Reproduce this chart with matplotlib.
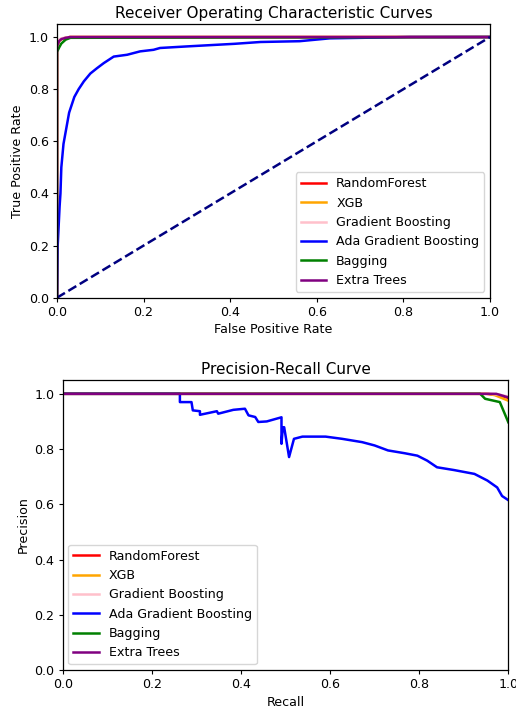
import matplotlib
matplotlib.use("Agg")
import matplotlib.pyplot as plt

models = ["RandomForest", "XGB", "Gradient Boosting", "Ada Gradient Boosting", "Bagging", "Extra Trees"]
colors = ["red", "orange", "pink", "blue", "green", "purple"]

# ROC curves (fpr, tpr)
roc_fpr = {
    "RandomForest": [0, 0, 0.005, 0.01, 0.02, 0.03, 1.0],
    "XGB": [0, 0, 0.005, 0.01, 0.02, 0.03, 1.0],
    "Gradient Boosting": [0, 0, 0.004, 0.01, 0.02, 0.03, 1.0],
    "Ada Gradient Boosting": [0, 0.0015, 0.006, 0.008, 0.010, 0.015, 0.028, 0.040, 0.050, 0.062,
                              0.077, 0.092, 0.108, 0.131, 0.162, 0.192, 0.223, 0.238, 0.30, 0.41,
                              0.47, 0.56, 0.63, 0.815, 1.0],
    "Bagging": [0, 0, 0.005, 0.01, 0.02, 0.031, 1.0],
    "Extra Trees": [0, 0, 0.005, 0.01, 0.02, 0.03, 1.0],
}
roc_tpr = {
    "RandomForest": [0, 0.965, 0.985, 0.992, 0.997, 1.0, 1.0],
    "XGB": [0, 0.965, 0.985, 0.992, 0.997, 1.0, 1.0],
    "Gradient Boosting": [0, 0.975, 0.99, 0.995, 0.998, 1.0, 1.0],
    "Ada Gradient Boosting": [0, 0.196, 0.35, 0.40, 0.50, 0.59, 0.71, 0.77, 0.80, 0.83,
                              0.86, 0.88, 0.90, 0.925, 0.932, 0.945, 0.951, 0.958, 0.964, 0.974,
                              0.981, 0.984, 0.995, 1.0, 1.0],
    "Bagging": [0, 0.943, 0.96, 0.975, 0.99, 0.997, 1.0],
    "Extra Trees": [0, 0.965, 0.985, 0.992, 0.997, 1.0, 1.0],
}

# Precision-Recall curves (recall, precision)
pr_recall = {
    "RandomForest": [0, 0.95, 0.98, 1.0],
    "XGB": [0, 0.955, 0.97, 1.0],
    "Gradient Boosting": [0, 0.96, 0.98, 1.0],
    "Ada Gradient Boosting": [0, 0.263, 0.263, 0.289, 0.292, 0.308, 0.308, 0.346, 0.349, 0.383,
                              0.409, 0.417, 0.432, 0.439, 0.458, 0.491, 0.491, 0.494, 0.497, 0.508,
                              0.519, 0.538, 0.59, 0.627, 0.672, 0.70, 0.73, 0.767, 0.796, 0.818,
                              0.84, 0.878, 0.924, 0.953, 0.975, 0.986, 1.0],
    "Bagging": [0, 0.937, 0.948, 0.981, 1.0],
    "Extra Trees": [0, 0.973, 1.0],
}
pr_precision = {
    "RandomForest": [1.0, 1.0, 0.995, 0.985],
    "XGB": [1.0, 1.0, 0.995, 0.975],
    "Gradient Boosting": [1.0, 1.0, 0.997, 0.99],
    "Ada Gradient Boosting": [1.0, 1.0, 0.970, 0.970, 0.940, 0.937, 0.924, 0.937, 0.928, 0.942,
                              0.946, 0.922, 0.916, 0.898, 0.90, 0.915, 0.819, 0.879, 0.879, 0.771,
                              0.837, 0.845, 0.845, 0.837, 0.825, 0.813, 0.795, 0.785, 0.776, 0.758,
                              0.734, 0.724, 0.71, 0.686, 0.661, 0.63, 0.615],
    "Bagging": [1.0, 1.0, 0.982, 0.970, 0.897],
    "Extra Trees": [1.0, 1.0, 0.987],
}

W, H = 516, 715
fig = plt.figure(figsize=(W / 100, H / 100), dpi=100)

ax1 = fig.add_axes([57 / W, 1 - 297.7 / H, 433 / W, 273.7 / H])
ax2 = fig.add_axes([62.7 / W, 1 - 670 / H, 445.6 / W, 290 / H])

tick_fs = 9.1
label_fs = 9.1
title_fs = 11
legend_fs = 9.1
lw = 1.8

for ax in (ax1, ax2):
    for s in ax.spines.values():
        s.set_linewidth(0.9)

for m, c in zip(models, colors):
    ax1.plot(roc_fpr[m], roc_tpr[m], color=c, lw=lw, label=m)
ax1.plot([0, 1], [0, 1], color="navy", lw=lw, linestyle="--")
ax1.set_xlim(0.0, 1.0)
ax1.set_ylim(0.0, 1.05)
ax1.set_xlabel("False Positive Rate", fontsize=label_fs, labelpad=3.2)
ax1.set_ylabel("True Positive Rate", fontsize=label_fs, labelpad=3.2)
ax1.set_title("Receiver Operating Characteristic Curves", fontsize=title_fs, pad=4.5)
ax1.tick_params(labelsize=tick_fs, length=3.2, pad=2.8)
ax1.legend(loc="lower right", fontsize=legend_fs, borderaxespad=0.45)

for m, c in zip(models, colors):
    ax2.plot(pr_recall[m], pr_precision[m], color=c, lw=lw, label=m)
ax2.set_xlim(0.0, 1.0)
ax2.set_ylim(0.0, 1.05)
ax2.set_xlabel("Recall", fontsize=label_fs, labelpad=3.2)
ax2.set_ylabel("Precision", fontsize=label_fs, labelpad=3.2)
ax2.set_title("Precision-Recall Curve", fontsize=title_fs, pad=4.5)
ax2.tick_params(labelsize=tick_fs, length=3.2, pad=2.8)
ax2.legend(loc="lower left", fontsize=legend_fs, borderaxespad=0.45)

fig.savefig("out.png", dpi=100)
